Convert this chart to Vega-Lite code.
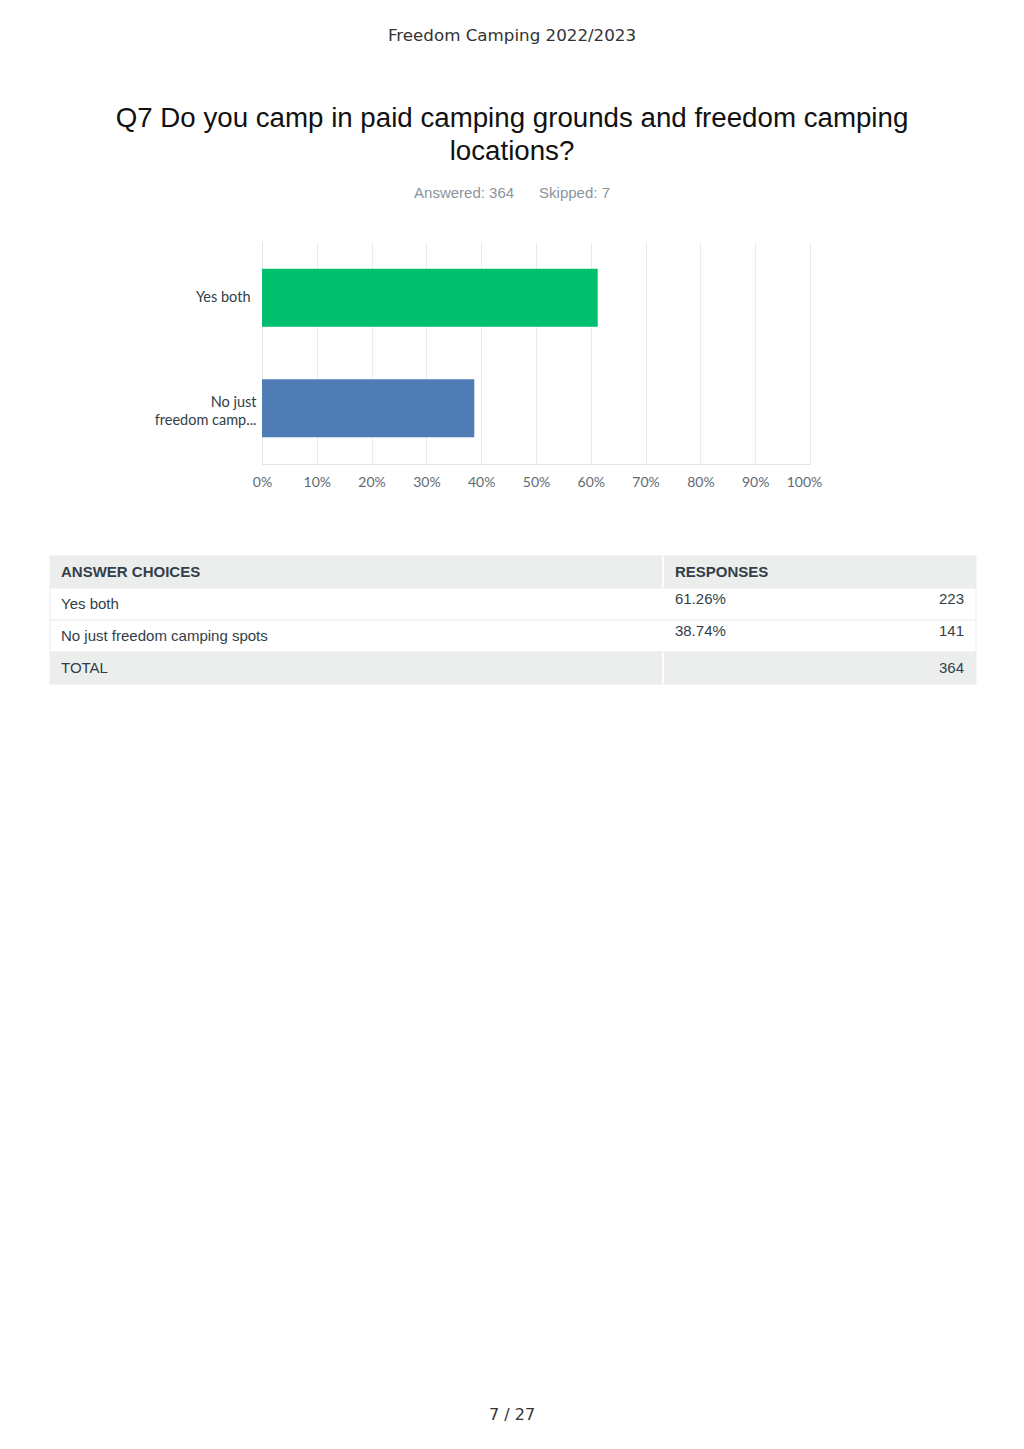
{
  "$schema": "https://vega.github.io/schema/vega-lite/v6.json",
  "description": "Q7 paid camping grounds vs freedom camping, survey summary page",
  "padding": {"top": 27, "left": 0, "right": 0, "bottom": 0},
  "spacing": 66,
  "title": {
    "text": "Freedom Camping 2022/2023",
    "font": "DejaVu Sans",
    "fontSize": 16.7,
    "fontWeight": "normal",
    "color": "#333333",
    "anchor": "middle",
    "offset": 61
  },
  "config": {
    "view": {"stroke": null},
    "font": "Liberation Sans"
  },
  "vconcat": [
    {
      "width": 1024,
      "height": 222,
      "title": {
        "text": ["Q7 Do you camp in paid camping grounds and freedom camping", "locations?"],
        "subtitle": "Answered: 364\u00a0\u00a0\u00a0\u00a0\u00a0\u00a0Skipped: 7",
        "font": "Liberation Sans",
        "fontSize": 27.7,
        "fontWeight": "normal",
        "lineHeight": 33,
        "color": "#111111",
        "subtitleFont": "Liberation Sans",
        "subtitleFontSize": 15,
        "subtitleColor": "#8a949b",
        "subtitlePadding": 20,
        "anchor": "middle",
        "frame": "group",
        "offset": 41
      },
      "data": {
        "values": [
          {"choice": "Yes both", "share": 0.6126},
          {"choice": "No just freedom camping spots", "share": 0.3874}
        ]
      },
      "mark": {"type": "bar"},
      "encoding": {
        "y": {
          "field": "choice",
          "type": "nominal",
          "sort": null,
          "scale": {"paddingInner": 0.475, "paddingOuter": 0.242},
          "axis": {
            "title": null,
            "offset": -262,
            "ticks": false,
            "domainColor": "#e4e4e4",
            "labelFont": "Lato",
            "labelFontSize": 14.5,
            "labelColor": "#333e48",
            "labelPadding": {"condition": {"test": "datum.value == 'Yes both'", "value": 12}, "value": 6},
            "labelOffset": {"condition": {"test": "datum.value == 'Yes both'", "value": 0}, "value": -5},
            "labelLineHeight": 18,
            "labelExpr": "datum.value == 'Yes both' ? 'Yes both' : ['No just', 'freedom camp...']"
          }
        },
        "x": {
          "field": "share",
          "type": "quantitative",
          "scale": {"domain": [0, 1], "range": [262, 810], "nice": false},
          "axis": {
            "title": null,
            "format": ".0%",
            "values": [0, 0.1, 0.2, 0.3, 0.4, 0.5, 0.6, 0.7, 0.8, 0.9, 1],
            "ticks": false,
            "labelFlush": false,
            "labelOverlap": false,
            "labelOffset": {"condition": {"test": "datum.value == 1", "value": -6}, "value": 0},
            "domainColor": "#e4e4e4",
            "gridColor": "#ebebeb",
            "labelFont": "Lato",
            "labelFontSize": 14,
            "labelColor": "#5f6b73",
            "labelPadding": 11
          }
        },
        "color": {
          "field": "choice",
          "type": "nominal",
          "scale": {
            "domain": ["Yes both", "No just freedom camping spots"],
            "range": ["#00bf6f", "#507cb6"]
          },
          "legend": null
        }
      }
    },
    {
      "width": 1024,
      "height": 128,
      "title": {
        "text": "7 / 27",
        "orient": "bottom",
        "font": "DejaVu Sans",
        "fontSize": 16,
        "fontWeight": "normal",
        "color": "#333333",
        "anchor": "middle",
        "frame": "group",
        "offset": 722
      },
      "data": {
        "values": [
          {"row": "header", "choice": "ANSWER CHOICES", "pct": "RESPONSES", "count": ""},
          {"row": "r1", "choice": "Yes both", "pct": "61.26%", "count": "223"},
          {"row": "r2", "choice": "No just freedom camping spots", "pct": "38.74%", "count": "141"},
          {"row": "total", "choice": "TOTAL", "pct": "", "count": "364"}
        ]
      },
      "encoding": {
        "y": {
          "field": "row",
          "type": "nominal",
          "sort": null,
          "scale": {"domain": ["header", "r1", "r2", "total"], "paddingInner": 0, "paddingOuter": 0},
          "axis": null
        }
      },
      "layer": [
        {
          "mark": {"type": "rect", "fill": "#ffffff", "stroke": "#ececec", "strokeWidth": 1},
          "encoding": {
            "x": {"datum": 0, "type": "quantitative", "scale": {"domain": [0, 1], "range": [50, 976]}, "axis": null},
            "x2": {"datum": 1}
          }
        },
        {
          "transform": [{"filter": "datum.row == 'header' || datum.row == 'total'"}],
          "mark": {"type": "rect", "color": "#eceeee"},
          "encoding": {
            "x": {"datum": 0, "type": "quantitative"},
            "x2": {"datum": 0.661}
          }
        },
        {
          "transform": [{"filter": "datum.row == 'header' || datum.row == 'total'"}],
          "mark": {"type": "rect", "color": "#eceeee"},
          "encoding": {
            "x": {"datum": 0.663, "type": "quantitative"},
            "x2": {"datum": 1}
          }
        },
        {
          "transform": [{"filter": "datum.row == 'header'"}],
          "mark": {"type": "text", "align": "left", "baseline": "middle", "dx": 11, "fontSize": 15, "fontWeight": "bold", "color": "#333e48"},
          "encoding": {
            "x": {"datum": 0, "type": "quantitative"},
            "text": {"field": "choice"}
          }
        },
        {
          "transform": [{"filter": "datum.row == 'header'"}],
          "mark": {"type": "text", "align": "left", "baseline": "middle", "dx": 11, "fontSize": 15, "fontWeight": "bold", "color": "#333e48"},
          "encoding": {
            "x": {"datum": 0.663, "type": "quantitative"},
            "text": {"field": "pct"}
          }
        },
        {
          "transform": [{"filter": "datum.row != 'header'"}],
          "mark": {"type": "text", "align": "left", "baseline": "middle", "dx": 11, "fontSize": 15, "color": "#333e48"},
          "encoding": {
            "x": {"datum": 0, "type": "quantitative"},
            "text": {"field": "choice"}
          }
        },
        {
          "transform": [{"filter": "datum.row == 'r1' || datum.row == 'r2'"}],
          "mark": {"type": "text", "align": "left", "baseline": "middle", "dx": 11, "dy": -5, "fontSize": 15, "color": "#333e48"},
          "encoding": {
            "x": {"datum": 0.663, "type": "quantitative"},
            "text": {"field": "pct"}
          }
        },
        {
          "transform": [{"filter": "datum.row == 'r1' || datum.row == 'r2'"}],
          "mark": {"type": "text", "align": "right", "baseline": "middle", "dx": -12, "dy": -5, "fontSize": 15, "color": "#333e48"},
          "encoding": {
            "x": {"datum": 1, "type": "quantitative"},
            "text": {"field": "count"}
          }
        },
        {
          "transform": [{"filter": "datum.row == 'total'"}],
          "mark": {"type": "text", "align": "right", "baseline": "middle", "dx": -12, "fontSize": 15, "color": "#333e48"},
          "encoding": {
            "x": {"datum": 1, "type": "quantitative"},
            "text": {"field": "count"}
          }
        }
      ]
    }
  ]
}
